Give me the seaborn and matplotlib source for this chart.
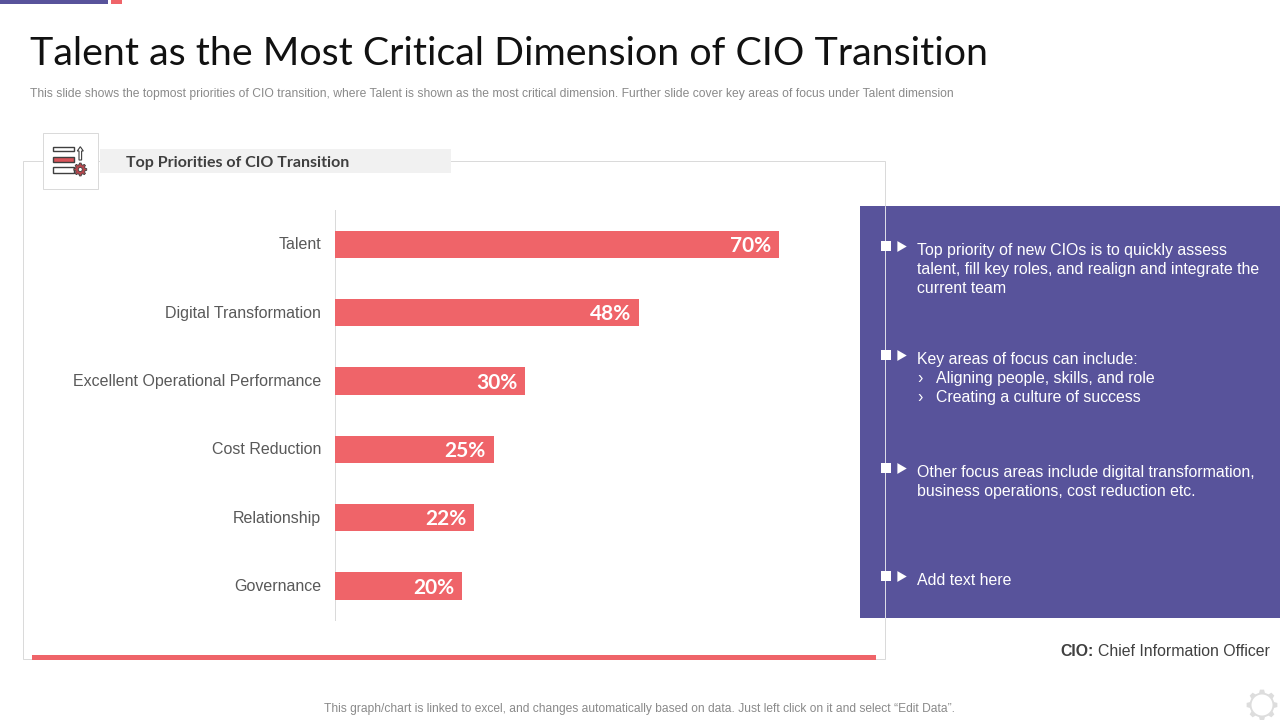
import matplotlib
matplotlib.use("Agg")
import matplotlib.pyplot as plt
from matplotlib.patches import Rectangle, Polygon, Circle
from matplotlib.transforms import ScaledTranslation
import numpy as np
import seaborn as sns

# chart values
categories = ["Talent", "Digital Transformation", "Excellent Operational Performance",
              "Cost Reduction", "Relationship", "Governance"]
values = [70, 48, 30, 25, 22, 20]

title = "Talent as the Most Critical Dimension of CIO Transition"
subtitle = ("This slide shows the topmost priorities of CIO transition, where Talent is shown as the "
            "most critical dimension. Further slide cover key areas of focus under Talent dimension")
panel_title = "Top Priorities of CIO Transition"
footer = "This graph/chart is linked to excel, and changes automatically based on data. Just left click on it and select \u201cEdit Data\u201d."

PURPLE = "#58539B"
RED = "#EF6469"
GREY = "#DADADA"
DARK = "#3F3F3F"


# simple cog outline, only used for the two decorations
def gear_points(x, y, r_out, r_in, teeth):
    pts = []
    for k in range(teeth):
        a = 2 * np.pi * k / teeth
        w = 2 * np.pi / teeth
        for da, r in [(-0.30, r_in), (-0.17, r_out), (0.17, r_out), (0.30, r_in)]:
            pts.append((x + r * np.cos(a + da * w), y + r * np.sin(a + da * w)))
    return pts


sns.set_theme(style="white")
plt.rcParams["font.family"] = ["Liberation Sans", "DejaVu Sans"]

fig = plt.figure(figsize=(12.8, 7.2), dpi=100)

# background layer in pixel coords, makes the slide furniture easier to place
bg = fig.add_axes([0, 0, 1, 1])
bg.set_xlim(0, 1280)
bg.set_ylim(720, 0)
bg.axis("off")

bg.add_patch(Rectangle((0, 0), 108, 4, color=PURPLE, lw=0))
bg.add_patch(Rectangle((111, 0), 11, 4, color=RED, lw=0))

bg.text(30, 65, title, fontsize=28.35, family="Lato", color="#111111", va="baseline", ha="left")
bg.text(30, 93.5, subtitle, fontsize=8.7, color="#8A8A8A", va="center", ha="left")

# chart frame
bg.add_patch(Rectangle((23, 161), 862, 498, fill=False, ec=GREY, lw=0.72))
bg.add_patch(Rectangle((32, 655), 844, 5, color=RED, lw=0))
bg.add_patch(Rectangle((100, 149.3), 351, 23.5, color="#F1F1F1", lw=0))
bg.add_patch(Rectangle((43, 133), 55.4, 56, fc="white", ec=GREY, lw=0.72))
bg.text(126, 167, panel_title, fontsize=11.5, family="Lato", weight="bold", color=DARK,
        va="baseline", ha="left")

# little icon next to the panel title
bg.add_patch(Rectangle((53, 146.7), 21, 4.6, fc="white", ec=DARK, lw=1))
bg.add_patch(Rectangle((53, 156.7), 21, 5, fc="#D9545A", ec=DARK, lw=1))
bg.add_patch(Rectangle((53, 166.7), 21, 6, fc="white", ec=DARK, lw=1))
bg.add_patch(Polygon([(79, 160), (79, 151), (77.3, 151), (80.3, 146.7), (83.3, 151), (81.6, 151), (81.6, 160)],
                     fc="white", ec=DARK, lw=0.8))
bg.add_patch(Polygon(gear_points(80.3, 169.5, 6.5, 5, 8), fc="#B5474D", ec=DARK, lw=0.6, zorder=4))
bg.add_patch(Circle((80.3, 169.5), 2, fc="white", ec=DARK, lw=0.6, zorder=5))

# purple side panel
bg.add_patch(Rectangle((860, 206), 420, 412, color=PURPLE, lw=0, zorder=2))
bg.plot([885, 885], [206, 618], color="#DCDCE8", lw=0.72, zorder=3)

line_h = 19
panel_text = [
    (249, ["Top priority of new CIOs is to quickly assess",
           "talent, fill key roles, and realign and integrate the",
           "current team"]),
    (358, ["Key areas of focus can include:"]),
    (471, ["Other focus areas include digital transformation,",
           "business operations, cost reduction etc."]),
    (579, ["Add text here"]),
]
for y0, lines in panel_text:
    bg.plot([885.5], [y0 - 3], marker="s", ms=6.5, color="white", zorder=4, mew=0)
    bg.plot([900], [y0 - 3], marker=(3, 0, -90), ms=9, color="white", zorder=4, mew=0)
    for i, line in enumerate(lines):
        bg.text(917, y0 + i * line_h + 6, line, fontsize=11.4, color="white", va="baseline", zorder=4)

for y0, line in [(377, "Aligning people, skills, and role"), (396, "Creating a culture of success")]:
    bg.text(917, y0 + 6, "\u203a", fontsize=11.4, color="white", va="baseline", zorder=4)
    bg.text(936, y0 + 6, line, fontsize=11.4, color="white", va="baseline", zorder=4)

# CIO note and footer
bg.text(1060, 656, "CIO:", fontsize=11.4, weight="bold", color="#404040", va="baseline")
bg.text(1098, 656, "Chief Information Officer", fontsize=11.4, color="#404040", va="baseline")
bg.text(639, 709, footer, fontsize=8.62, color="#8A8A8A", va="center", ha="center")

# faint gear, bottom right
bg.add_patch(Polygon(gear_points(1262, 705, 15.5, 12.5, 8), fc="#DDDDDD", lw=0))
bg.add_patch(Circle((1262, 705), 10.5, fc="white", lw=0, zorder=3))

# the actual bar chart, 6.34 px per percent
ax = fig.add_axes([335 / 1280, 1 - 620 / 720, 520 / 1280, 410 / 720])
ax.patch.set_alpha(0)
sns.barplot(x=values, y=categories, color=RED, saturation=1, width=0.4, linewidth=0, ax=ax)
ax.set_xlim(0, 520 / 6.34)
ax.set_ylim(5.5, -0.5)
ax.set_xticks([])
ax.set_xlabel("")
ax.set_ylabel("")
sns.despine(ax=ax, top=True, right=True, bottom=True)
ax.spines["left"].set_color(GREY)
ax.spines["left"].set_linewidth(0.72)
ax.spines["left"].set_zorder(0)
ax.tick_params(axis="y", length=0, pad=10)
nudge = ScaledTranslation(0, 1 / 100, fig.dpi_scale_trans)  # labels sit 1px higher in the slide
for lab in ax.get_yticklabels():
    lab.set_fontsize(11.5)
    lab.set_color("#595959")
    lab.set_verticalalignment("center_baseline")
    lab.set_transform(lab.get_transform() + nudge)

for i, v in enumerate(values):
    ax.annotate(f"{v}%", xy=(v, i), xytext=(-5.5, -1.4), textcoords="offset points",
                ha="right", va="center", fontsize=15, family="Lato", weight="bold", color="white")

fig.savefig("out.png", dpi=100)
